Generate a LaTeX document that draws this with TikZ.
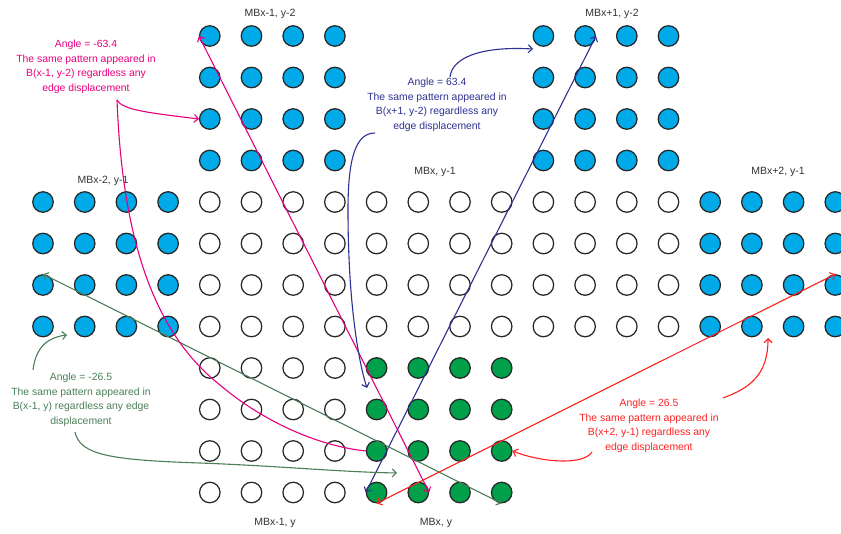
\documentclass[tikz,border=0pt]{standalone}
\usepackage{fontspec}
\setmainfont{Liberation Sans}
\usetikzlibrary{arrows.meta,calc}
\definecolor{mbblue}{HTML}{00AAE8}
\definecolor{mbgreen}{HTML}{00A04A}
\definecolor{pinkline}{HTML}{E6007E}
\definecolor{navyline}{HTML}{2E3192}
\definecolor{greenline}{HTML}{4B7F58}
\definecolor{redline}{HTML}{FF2020}

\begin{document}
\begin{tikzpicture}[
    x=1pt, y=-1pt,
    mbdot/.style={circle, draw=black!85, line width=1.25pt, minimum size=20.5pt, inner sep=0pt},
    dotblue/.style={mbdot, fill=mbblue},
    dotwhite/.style={mbdot, fill=white},
    dotgreen/.style={mbdot, fill=mbgreen},
    mblabel/.style={font=\fontsize{10.5}{12}\selectfont, text=black!80},
    note/.style={align=center, font=\fontsize{10.4}{14.5}\selectfont},
    twoway/.style={<->, >={Straight Barb[length=4pt,width=8pt]}, line width=1.1pt},
    oneway/.style={->, >={Straight Barb[length=4pt,width=8pt]}, line width=1.1pt},
    noway/.style={line width=1.1pt}
]
\fill[white] (0,0) rectangle (841,534);
\useasboundingbox (0,0) rectangle (841,534);

% Macroblocks
\foreach \j in {0,...,3}
  \foreach \i in {4,5,6,7,12,13,14,15}
    \node[dotblue] (c-\i-\j) at ({43+41.7*\i},{36+41.5*\j}) {};
\foreach \j in {4,...,7}
  \foreach \i in {0,1,2,3,16,17,18,19}
    \node[dotblue] (c-\i-\j) at ({43+41.7*\i},{36+41.5*\j}) {};
\foreach \j in {4,...,7}
  \foreach \i in {4,...,15}
    \node[dotwhite] (c-\i-\j) at ({43+41.7*\i},{36+41.5*\j}) {};
\foreach \j in {8,...,11}
  \foreach \i in {4,...,7}
    \node[dotwhite] (c-\i-\j) at ({43+41.7*\i},{36+41.5*\j}) {};
\foreach \j in {8,...,11}
  \foreach \i in {8,...,11}
    \node[dotgreen] (c-\i-\j) at ({43+41.7*\i},{36+41.5*\j}) {};

% Block labels
\node[mblabel] (lbl-a) at (270,14) {MBx-1, y-2};
\node[mblabel] (lbl-b) at (612,14) {MBx+1, y-2};
\node[mblabel] (lbl-c) at (103,181) {MBx-2, y-1};
\node[mblabel] (lbl-d) at (435,172) {MBx, y-1};
\node[mblabel] (lbl-e) at (778,172) {MBx+2, y-1};
\node[mblabel] (lbl-f) at (275,523) {MBx-1, y};
\node[mblabel] (lbl-g) at (436,523) {MBx, y};

% Notes
\node[note, text=pinkline] (pinknote) at (86,67)
  {Angle = -63.4\\The same pattern appeared in\\B(x-1, y-2) regardless any\\edge displacement};
\node[note, text=navyline] (navynote) at (437,105)
  {Angle = 63.4\\The same pattern appeared in\\B(x+1, y-2) regardless any\\edge displacement};
\node[note, text=greenline] (greennote) at (81,400)
  {Angle = -26.5\\The same pattern appeared in\\B(x-1, y) regardless any edge\\displacement};
\node[note, text=redline] (rednote) at (649,426)
  {Angle = 26.5\\The same pattern appeared in\\B(x+2, y-1) regardless any\\edge displacement};

% Curve ends
\coordinate (pk) at (117,100);
\coordinate (bl1) at (450,77);
\coordinate (bl2) at (375,133);
\coordinate (bl1-end) at (533,49);
\coordinate (bl2-end) at (367,388);
\coordinate (gr1) at (33,370);
\coordinate (gr2) at (75,432);
\coordinate (gr1-end) at (67,335);
\coordinate (gr2-end) at (397,473);
\coordinate (rd1) at (723,398);
\coordinate (rd2) at (592,452);
\coordinate (rd1-end) at (768,338);

% Direction lines
\draw[twoway, pinkline] (c-4-0.west) -- (c-9-11.east);
\draw[twoway, navyline] (c-8-11.west) -- (c-13-0.east);
\draw[twoway, greenline] (c-0-6.north) -- (c-11-11.south);
\draw[twoway, redline] (c-8-11.south) -- (c-19-6.north);

% Pointers
\draw[oneway, pinkline] (pk) .. controls (122,110) and (150,113) .. (c-4-2.west);
\draw[noway, pinkline] (pk) .. controls (122,230) and (150,330) .. (220,385)
  .. controls (255,415) and (310,445) .. (c-8-10.west);
\draw[oneway, navyline] (bl1) .. controls (452,58) and (480,46) .. (bl1-end);
\draw[oneway, navyline] (bl2) .. controls (355,133) and (348,160) .. (348,210)
  .. controls (348,300) and (358,360) .. (bl2-end);
\draw[oneway, greenline] (gr1) .. controls (36,345) and (50,337) .. (gr1-end);
\draw[oneway, greenline] (gr2) .. controls (80,455) and (110,460) .. (200,463)
  .. controls (280,466) and (340,472) .. (gr2-end);
\draw[oneway, redline] (rd1) .. controls (750,388) and (768,375) .. (rd1-end);
\draw[oneway, redline] (rd2) .. controls (583,466) and (540,462) .. (c-11-10.east);
\end{tikzpicture}
\end{document}
